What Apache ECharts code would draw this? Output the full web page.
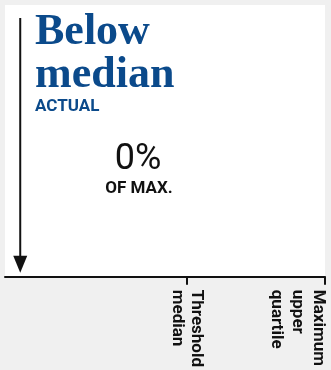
<!DOCTYPE html>
<html>
<head>
<meta charset="utf-8">
<script src="https://cdn.jsdelivr.net/npm/echarts@6/dist/echarts.min.js"></script>
<style>
  html, body { margin: 0; padding: 0; background: #f0f0f0; }
  #chart { width: 331px; height: 370px; }
</style>
</head>
<body>
<div id="chart"></div>
<script>
const status = ["Below", "median"];
const measure = "ACTUAL";
const actualShare = [0];
const tickValues = [54.5, 100];
const tickLabels = ["Threshold\nmedian", "Maximum\nupper\nquartile"];

const blue = "#0b4a8b";
const chart = echarts.init(document.getElementById("chart"));

const labelStyle = {
  fontFamily: "Roboto",
  fontWeight: "bold",
  fontSize: 17,
  color: "#111",
  rotate: -90,
  margin: 13
};

chart.setOption({
  backgroundColor: "#f0f0f0",
  animation: false,
  title: [
    {
      text: status.join("\n"),
      left: 35,
      top: 11,
      padding: 0,
      textStyle: { fontFamily: "Liberation Serif", fontWeight: "bold", fontSize: 44, lineHeight: 43, color: blue }
    },
    {
      text: measure,
      left: 35,
      top: 98.7,
      padding: 0,
      textStyle: { fontFamily: "Roboto", fontWeight: "bold", fontSize: 17, lineHeight: 17, color: blue }
    },
    {
      text: actualShare[0] + "%",
      left: 138,
      top: 142,
      padding: 0,
      textAlign: "center",
      textStyle: { fontFamily: "Roboto", fontWeight: "normal", fontSize: 36, lineHeight: 36, color: "#111" }
    },
    {
      text: "OF MAX.",
      left: 139,
      top: 180,
      padding: 0,
      textAlign: "center",
      textStyle: { fontFamily: "Roboto", fontWeight: "bold", fontSize: 17, lineHeight: 17, color: "#111" }
    }
  ],
  grid: { left: 5, right: 6, top: 5, bottom: 92, show: true, backgroundColor: "#fff", borderWidth: 0 },
  xAxis: [
    {
      type: "value",
      min: -5,
      max: 100,
      splitLine: { show: false },
      axisLine: { show: true, lineStyle: { color: "#111", width: 2 } },
      axisTick: { show: true, customValues: tickValues, length: 8, lineStyle: { color: "#111", width: 2 } },
      axisLabel: {
        ...labelStyle,
        customValues: [tickValues[0]],
        lineHeight: 19,
        formatter: () => tickLabels[0]
      }
    },
    {
      type: "value",
      min: -5,
      max: 100,
      position: "bottom",
      splitLine: { show: false },
      axisLine: { show: false },
      axisTick: { show: false },
      axisLabel: {
        ...labelStyle,
        customValues: [tickValues[1]],
        lineHeight: 21,
        verticalAlign: "top",
        padding: [-4, 0, 0, 0],
        formatter: () => tickLabels[1]
      }
    }
  ],
  yAxis: { type: "value", min: 0, max: 100, show: false },
  series: [
    {
      type: "line",
      xAxisIndex: 0,
      silent: true,
      lineStyle: { color: "#111", width: 2 },
      data: [
        { value: [actualShare[0], 95.2], symbol: "none" },
        { value: [actualShare[0], 4.6], symbol: "triangle", symbolRotate: 180, symbolSize: [14, 17], itemStyle: { color: "#111" } }
      ]
    }
  ]
});
</script>
</body>
</html>
